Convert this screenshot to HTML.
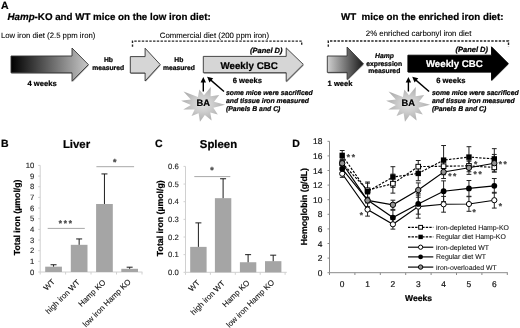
<!DOCTYPE html>
<html><head><meta charset="utf-8"><style>
html,body{margin:0;padding:0;background:#fff;}
svg{display:block;filter:grayscale(1) blur(0.3px);text-rendering:geometricPrecision;font-family:"Liberation Sans",sans-serif;}
</style></head><body>
<svg width="520" height="328" viewBox="0 0 520 328">
<defs>
<linearGradient id="g1" x1="0" x2="1" y1="0" y2="0"><stop offset="0" stop-color="#000"/><stop offset="1" stop-color="#c8c8c8"/></linearGradient>
<linearGradient id="g2" x1="0" x2="1" y1="0" y2="0"><stop offset="0" stop-color="#d0d0d0"/><stop offset="1" stop-color="#1a1a1a"/></linearGradient>
<filter id="blur" x="-20%" y="-20%" width="140%" height="140%"><feGaussianBlur stdDeviation="0.6"/></filter>
<filter id="sh" x="-10%" y="-10%" width="120%" height="130%"><feGaussianBlur stdDeviation="0.6"/></filter>
<radialGradient id="sg"><stop offset="0" stop-color="#e2e2e2"/><stop offset="0.45" stop-color="#cdcdcd"/><stop offset="1" stop-color="#adadad"/></radialGradient>
</defs>
<rect width="520" height="328" fill="#fff"/>
<text x="1" y="9" font-size="10.5" font-weight="bold" font-style="normal" text-anchor="start" fill="#000" stroke="#000" stroke-width="0.22" >A</text>
<text x="7.5" y="19.8" font-size="9.75" font-weight="bold" stroke="#000" stroke-width="0.22"><tspan font-style="italic">Hamp</tspan>-KO and WT mice on the low iron diet:</text>
<text x="341" y="20.2" font-size="9.75" font-weight="bold" stroke="#000" stroke-width="0.22" xml:space="preserve">WT  mice on the enriched iron diet:</text>
<text x="1" y="38" font-size="7.75" font-weight="normal" font-style="normal" text-anchor="start" fill="#000" stroke="#000" stroke-width="0.08" >Low iron diet (2.5 ppm iron)</text>
<text x="159.8" y="37.5" font-size="7.8" font-weight="normal" font-style="normal" text-anchor="start" fill="#000" stroke="#000" stroke-width="0.08" >Commercial diet (200 ppm iron)</text>
<text x="365.8" y="35.6" font-size="7.85" font-weight="normal" font-style="normal" text-anchor="start" fill="#000" stroke="#000" stroke-width="0.08" >2% enriched carbonyl iron diet</text>
<path d="M132.5,46.8 V41.1 H301.7 V45.8" fill="none" stroke="#262626" stroke-width="1.4" stroke-dasharray="2.4,1.35"/>
<path d="M328.3,46.8 V41.0 H508.5 V46.5" fill="none" stroke="#262626" stroke-width="1.4" stroke-dasharray="2.4,1.35"/>
<polygon points="11,56 72,56 72,48 88.4,64.6 72,81.2 72,72.8 11,72.8" fill="#000" opacity="0.35" transform="translate(0.5,1)" filter="url(#sh)"/>
<polygon points="11,56 72,56 72,48 88.4,64.6 72,81.2 72,72.8 11,72.8" fill="url(#g1)" stroke="#333" stroke-width="0.9" stroke-linejoin="miter"/>
<polygon points="130.3,56.6 145.1,56.6 145.1,48.2 160.2,64.5 145.1,81.0 145.1,73.0 130.3,73.0" fill="#000" opacity="0.35" transform="translate(0.5,1)" filter="url(#sh)"/>
<polygon points="130.3,56.6 145.1,56.6 145.1,48.2 160.2,64.5 145.1,81.0 145.1,73.0 130.3,73.0" fill="#d6d6d6" stroke="#333" stroke-width="0.9" stroke-linejoin="miter"/>
<polygon points="203.3,56.4 286.2,56.4 286.2,47.9 303.3,64.4 286.2,81.4 286.2,72.7 203.3,72.7" fill="#000" opacity="0.35" transform="translate(0.5,1)" filter="url(#sh)"/>
<polygon points="203.3,56.4 286.2,56.4 286.2,47.9 303.3,64.4 286.2,81.4 286.2,72.7 203.3,72.7" fill="#d6d6d6" stroke="#333" stroke-width="0.9" stroke-linejoin="miter"/>
<polygon points="327.3,56 347.1,56 347.1,47 363.4,63.8 347.1,79.5 347.1,72.4 327.3,72.4" fill="#000" opacity="0.35" transform="translate(0.5,1)" filter="url(#sh)"/>
<polygon points="327.3,56 347.1,56 347.1,47 363.4,63.8 347.1,79.5 347.1,72.4 327.3,72.4" fill="url(#g2)" stroke="#333" stroke-width="0.9" stroke-linejoin="miter"/>
<polygon points="407.9,55.2 491.5,55.2 491.5,46.8 508.3,63.6 491.5,80.3 491.5,72 407.9,72" fill="#000" opacity="0.35" transform="translate(0.5,1)" filter="url(#sh)"/>
<polygon points="407.9,55.2 491.5,55.2 491.5,46.8 508.3,63.6 491.5,80.3 491.5,72 407.9,72" fill="#000" stroke="#000" stroke-width="0.9" stroke-linejoin="miter"/>
<text x="27.4" y="86.2" font-size="7.65" font-weight="bold" font-style="normal" text-anchor="start" fill="#000" stroke="#000" stroke-width="0.22" >4 weeks</text>
<text x="108.4" y="62" font-size="6.75" font-weight="bold" font-style="normal" text-anchor="middle" fill="#000" stroke="#000" stroke-width="0.22" >Hb</text>
<text x="92.2" y="69.7" font-size="6.75" font-weight="bold" font-style="normal" text-anchor="start" fill="#000" stroke="#000" stroke-width="0.22" >measured</text>
<text x="178.8" y="61.7" font-size="6.75" font-weight="bold" font-style="normal" text-anchor="middle" fill="#000" stroke="#000" stroke-width="0.22" >Hb</text>
<text x="162.9" y="69.7" font-size="6.75" font-weight="bold" font-style="normal" text-anchor="start" fill="#000" stroke="#000" stroke-width="0.22" >measured</text>
<text x="220.5" y="68.6" font-size="9.75" font-weight="bold" font-style="normal" text-anchor="start" fill="#000" stroke="#000" stroke-width="0.22" >Weekly CBC</text>
<text x="250" y="52.5" font-size="7.5" font-weight="bold" font-style="italic" text-anchor="start" fill="#000" stroke="#000" stroke-width="0.22" >(Panel D)</text>
<text x="232.7" y="82.6" font-size="7.65" font-weight="bold" font-style="normal" text-anchor="start" fill="#000" stroke="#000" stroke-width="0.22" >6 weeks</text>
<text x="327.6" y="86" font-size="7.55" font-weight="bold" font-style="normal" text-anchor="start" fill="#000" stroke="#000" stroke-width="0.22" >1 week</text>
<text x="384.5" y="57.7" font-size="6.78" font-weight="bold" font-style="italic" text-anchor="middle" fill="#000" stroke="#000" stroke-width="0.22" >Hamp</text>
<text x="366.3" y="65.8" font-size="6.78" font-weight="bold" font-style="normal" text-anchor="start" fill="#000" stroke="#000" stroke-width="0.22" >expression</text>
<text x="368.3" y="73" font-size="6.78" font-weight="bold" font-style="normal" text-anchor="start" fill="#000" stroke="#000" stroke-width="0.22" >measured</text>
<text x="425.9" y="67.4" font-size="9.7" font-weight="bold" font-style="normal" text-anchor="start" fill="#fff" stroke="#fff" stroke-width="0.22" >Weekly CBC</text>
<text x="455.5" y="51.8" font-size="7.5" font-weight="bold" font-style="italic" text-anchor="start" fill="#000" stroke="#000" stroke-width="0.22" >(Panel D)</text>
<text x="436.2" y="82.6" font-size="7.65" font-weight="bold" font-style="normal" text-anchor="start" fill="#000" stroke="#000" stroke-width="0.22" >6 weeks</text>
<polygon points="183.54,91.39 197.90,97.04 199.35,89.62 203.97,95.33 210.79,87.02 210.61,96.20 219.21,95.03 214.05,101.67 225.04,104.81 213.35,107.79 217.76,114.58 210.29,112.49 211.62,120.41 204.82,114.92 199.97,121.66 198.62,113.26 191.55,116.04 194.70,109.39 183.23,109.59 190.90,105.02 181.15,100.65 190.78,99.56" fill="url(#sg)" filter="url(#blur)"/>
<text x="196.5" y="106" font-size="9.3" font-weight="bold" font-style="normal" text-anchor="start" fill="#000" stroke="#000" stroke-width="0.22" >BA</text>
<line x1="203.3" y1="91.5" x2="203.3" y2="80" stroke="#000" stroke-width="1.4"/>
<polygon points="200.60000000000002,82.6 203.3,76.9 206.0,82.6" fill="#000"/>
<line x1="224.0" y1="91.5" x2="209.10000000000002" y2="78.6" stroke="#000" stroke-width="1.4"/>
<polygon points="207.10000000000002,76.8 213.16,78.36 209.49,82.59" fill="#000"/>
<text x="226" y="95.2" font-size="6.85" font-weight="bold" font-style="italic" text-anchor="start" fill="#000" stroke="#000" stroke-width="0.22" >some mice were sacrificed</text>
<text x="226" y="102.9" font-size="6.85" font-weight="bold" font-style="italic" text-anchor="start" fill="#000" stroke="#000" stroke-width="0.22" >and tissue iron measured</text>
<text x="226" y="110.5" font-size="6.85" font-weight="bold" font-style="italic" text-anchor="start" fill="#000" stroke="#000" stroke-width="0.22" >(Panels B and C)</text>
<polygon points="388.54,91.39 402.90,97.04 404.35,89.62 408.97,95.33 415.79,87.02 415.61,96.20 424.21,95.03 419.05,101.67 430.04,104.81 418.35,107.79 422.76,114.58 415.29,112.49 416.62,120.41 409.82,114.92 404.97,121.66 403.62,113.26 396.55,116.04 399.70,109.39 388.23,109.59 395.90,105.02 386.15,100.65 395.78,99.56" fill="url(#sg)" filter="url(#blur)"/>
<text x="401.5" y="106" font-size="9.3" font-weight="bold" font-style="normal" text-anchor="start" fill="#000" stroke="#000" stroke-width="0.22" >BA</text>
<line x1="408.4" y1="91.5" x2="408.4" y2="80" stroke="#000" stroke-width="1.4"/>
<polygon points="405.7,82.6 408.4,76.9 411.09999999999997,82.6" fill="#000"/>
<line x1="429.09999999999997" y1="91.5" x2="414.2" y2="78.6" stroke="#000" stroke-width="1.4"/>
<polygon points="412.2,76.8 418.26,78.36 414.59,82.59" fill="#000"/>
<text x="431.9" y="95.2" font-size="6.85" font-weight="bold" font-style="italic" text-anchor="start" fill="#000" stroke="#000" stroke-width="0.22" >some mice were sacrificed</text>
<text x="431.9" y="102.9" font-size="6.85" font-weight="bold" font-style="italic" text-anchor="start" fill="#000" stroke="#000" stroke-width="0.22" >and tissue iron measured</text>
<text x="431.9" y="110.5" font-size="6.85" font-weight="bold" font-style="italic" text-anchor="start" fill="#000" stroke="#000" stroke-width="0.22" >(Panels B and C)</text>
<text x="1" y="146.9" font-size="10.5" font-weight="bold" font-style="normal" text-anchor="start" fill="#000" stroke="#000" stroke-width="0.22" >B</text>
<text x="62.9" y="148.4" font-size="11.4" font-weight="bold" font-style="normal" text-anchor="start" fill="#000" stroke="#000" stroke-width="0.22" >Liver</text>
<line x1="40.2" y1="165.4" x2="40.2" y2="272" stroke="#d0d0d0" stroke-width="1"/>
<line x1="38.2" y1="272.0" x2="40.2" y2="272.0" stroke="#d0d0d0" stroke-width="1"/>
<text x="34.3" y="274.75" font-size="7.7" font-weight="normal" font-style="normal" text-anchor="end" fill="#222" stroke="#222" stroke-width="0.12" >0</text>
<line x1="38.2" y1="261.34" x2="40.2" y2="261.34" stroke="#d0d0d0" stroke-width="1"/>
<text x="34.3" y="264.09" font-size="7.7" font-weight="normal" font-style="normal" text-anchor="end" fill="#222" stroke="#222" stroke-width="0.12" >1</text>
<line x1="38.2" y1="250.68" x2="40.2" y2="250.68" stroke="#d0d0d0" stroke-width="1"/>
<text x="34.3" y="253.43" font-size="7.7" font-weight="normal" font-style="normal" text-anchor="end" fill="#222" stroke="#222" stroke-width="0.12" >2</text>
<line x1="38.2" y1="240.02" x2="40.2" y2="240.02" stroke="#d0d0d0" stroke-width="1"/>
<text x="34.3" y="242.77" font-size="7.7" font-weight="normal" font-style="normal" text-anchor="end" fill="#222" stroke="#222" stroke-width="0.12" >3</text>
<line x1="38.2" y1="229.36" x2="40.2" y2="229.36" stroke="#d0d0d0" stroke-width="1"/>
<text x="34.3" y="232.11" font-size="7.7" font-weight="normal" font-style="normal" text-anchor="end" fill="#222" stroke="#222" stroke-width="0.12" >4</text>
<line x1="38.2" y1="218.7" x2="40.2" y2="218.7" stroke="#d0d0d0" stroke-width="1"/>
<text x="34.3" y="221.45" font-size="7.7" font-weight="normal" font-style="normal" text-anchor="end" fill="#222" stroke="#222" stroke-width="0.12" >5</text>
<line x1="38.2" y1="208.04" x2="40.2" y2="208.04" stroke="#d0d0d0" stroke-width="1"/>
<text x="34.3" y="210.79" font-size="7.7" font-weight="normal" font-style="normal" text-anchor="end" fill="#222" stroke="#222" stroke-width="0.12" >6</text>
<line x1="38.2" y1="197.38" x2="40.2" y2="197.38" stroke="#d0d0d0" stroke-width="1"/>
<text x="34.3" y="200.13" font-size="7.7" font-weight="normal" font-style="normal" text-anchor="end" fill="#222" stroke="#222" stroke-width="0.12" >7</text>
<line x1="38.2" y1="186.72" x2="40.2" y2="186.72" stroke="#d0d0d0" stroke-width="1"/>
<text x="34.3" y="189.47" font-size="7.7" font-weight="normal" font-style="normal" text-anchor="end" fill="#222" stroke="#222" stroke-width="0.12" >8</text>
<line x1="38.2" y1="176.06" x2="40.2" y2="176.06" stroke="#d0d0d0" stroke-width="1"/>
<text x="34.3" y="178.81" font-size="7.7" font-weight="normal" font-style="normal" text-anchor="end" fill="#222" stroke="#222" stroke-width="0.12" >9</text>
<line x1="38.2" y1="165.4" x2="40.2" y2="165.4" stroke="#d0d0d0" stroke-width="1"/>
<text x="34.3" y="168.15" font-size="7.7" font-weight="normal" font-style="normal" text-anchor="end" fill="#222" stroke="#222" stroke-width="0.12" >10</text>
<line x1="40.2" y1="272" x2="142.4" y2="272" stroke="#d0d0d0" stroke-width="1"/>
<line x1="40.2" y1="272" x2="40.2" y2="274.5" stroke="#d0d0d0" stroke-width="1"/>
<line x1="65.6" y1="272" x2="65.6" y2="274.5" stroke="#d0d0d0" stroke-width="1"/>
<line x1="91" y1="272" x2="91" y2="274.5" stroke="#d0d0d0" stroke-width="1"/>
<line x1="116.5" y1="272" x2="116.5" y2="274.5" stroke="#d0d0d0" stroke-width="1"/>
<line x1="142" y1="272" x2="142" y2="274.5" stroke="#d0d0d0" stroke-width="1"/>
<rect x="45.2" y="266.67" width="16.7" height="5.33" fill="#a5a5a5"/>
<line x1="53.550000000000004" y1="266.67" x2="53.550000000000004" y2="264.75" stroke="#1e1e1e" stroke-width="1"/>
<line x1="50.550000000000004" y1="264.75" x2="56.550000000000004" y2="264.75" stroke="#1e1e1e" stroke-width="1"/>
<rect x="70.8" y="244.82" width="16.7" height="27.18" fill="#a5a5a5"/>
<line x1="79.14999999999999" y1="244.82" x2="79.14999999999999" y2="238.95" stroke="#1e1e1e" stroke-width="1"/>
<line x1="76.14999999999999" y1="238.95" x2="82.14999999999999" y2="238.95" stroke="#1e1e1e" stroke-width="1"/>
<rect x="96.1" y="203.99" width="16.7" height="68.01" fill="#a5a5a5"/>
<line x1="104.44999999999999" y1="203.99" x2="104.44999999999999" y2="173.93" stroke="#1e1e1e" stroke-width="1"/>
<line x1="101.44999999999999" y1="173.93" x2="107.44999999999999" y2="173.93" stroke="#1e1e1e" stroke-width="1"/>
<rect x="121.3" y="268.80" width="16.7" height="3.20" fill="#a5a5a5"/>
<line x1="129.65" y1="268.80" x2="129.65" y2="267.20" stroke="#1e1e1e" stroke-width="1"/>
<line x1="126.65" y1="267.20" x2="132.65" y2="267.20" stroke="#1e1e1e" stroke-width="1"/>
<text x="55.5" y="282.3" font-size="7.9" text-anchor="end" fill="#111" stroke="#111" stroke-width="0.1" transform="rotate(-45 55.5 282.3)">WT</text>
<text x="80.5" y="282.8" font-size="7.9" text-anchor="end" fill="#111" stroke="#111" stroke-width="0.1" transform="rotate(-45 80.5 282.8)">high iron WT</text>
<text x="106" y="282.8" font-size="7.9" text-anchor="end" fill="#111" stroke="#111" stroke-width="0.1" transform="rotate(-45 106 282.8)">Hamp KO</text>
<text x="131.3" y="282.3" font-size="7.9" text-anchor="end" fill="#111" stroke="#111" stroke-width="0.1" transform="rotate(-45 131.3 282.3)">low iron Hamp KO</text>
<text x="20.2" y="217.4" font-size="8.75" font-weight="bold" text-anchor="middle" stroke="#000" stroke-width="0.22" transform="rotate(-90 20.2 217.4)">Total iron (µmol/g)</text>
<line x1="47.7" y1="228.4" x2="84.8" y2="228.4" stroke="#a8a8a8" stroke-width="1"/>
<text x="60.41" y="225.50" font-size="8.2" font-weight="bold" text-anchor="middle" fill="#484848" stroke="#484848" stroke-width="0.3">*</text>
<text x="65.40" y="225.50" font-size="8.2" font-weight="bold" text-anchor="middle" fill="#484848" stroke="#484848" stroke-width="0.3">*</text>
<text x="70.39" y="225.50" font-size="8.2" font-weight="bold" text-anchor="middle" fill="#484848" stroke="#484848" stroke-width="0.3">*</text>
<line x1="96.4" y1="166.7" x2="134.1" y2="166.7" stroke="#a8a8a8" stroke-width="1"/>
<text x="114.60" y="164.60" font-size="8.8" font-weight="bold" text-anchor="middle" fill="#484848" stroke="#484848" stroke-width="0.3">*</text>
<text x="155.1" y="146.9" font-size="10.5" font-weight="bold" font-style="normal" text-anchor="start" fill="#000" stroke="#000" stroke-width="0.22" >C</text>
<text x="199.8" y="148.4" font-size="11.4" font-weight="bold" font-style="normal" text-anchor="start" fill="#000" stroke="#000" stroke-width="0.22" >Spleen</text>
<line x1="185.5" y1="166.40000000000003" x2="185.5" y2="272.3" stroke="#d0d0d0" stroke-width="1"/>
<line x1="183.5" y1="272.3" x2="185.5" y2="272.3" stroke="#d0d0d0" stroke-width="1"/>
<text x="178.8" y="275.05" font-size="7.7" font-weight="normal" font-style="normal" text-anchor="end" fill="#222" stroke="#222" stroke-width="0.12" >0.0</text>
<line x1="183.5" y1="254.65" x2="185.5" y2="254.65" stroke="#d0d0d0" stroke-width="1"/>
<text x="178.8" y="257.4" font-size="7.7" font-weight="normal" font-style="normal" text-anchor="end" fill="#222" stroke="#222" stroke-width="0.12" >0.1</text>
<line x1="183.5" y1="237.0" x2="185.5" y2="237.0" stroke="#d0d0d0" stroke-width="1"/>
<text x="178.8" y="239.75" font-size="7.7" font-weight="normal" font-style="normal" text-anchor="end" fill="#222" stroke="#222" stroke-width="0.12" >0.2</text>
<line x1="183.5" y1="219.35" x2="185.5" y2="219.35" stroke="#d0d0d0" stroke-width="1"/>
<text x="178.8" y="222.1" font-size="7.7" font-weight="normal" font-style="normal" text-anchor="end" fill="#222" stroke="#222" stroke-width="0.12" >0.3</text>
<line x1="183.5" y1="201.7" x2="185.5" y2="201.7" stroke="#d0d0d0" stroke-width="1"/>
<text x="178.8" y="204.45" font-size="7.7" font-weight="normal" font-style="normal" text-anchor="end" fill="#222" stroke="#222" stroke-width="0.12" >0.4</text>
<line x1="183.5" y1="184.05" x2="185.5" y2="184.05" stroke="#d0d0d0" stroke-width="1"/>
<text x="178.8" y="186.8" font-size="7.7" font-weight="normal" font-style="normal" text-anchor="end" fill="#222" stroke="#222" stroke-width="0.12" >0.5</text>
<line x1="183.5" y1="166.39999999999998" x2="185.5" y2="166.39999999999998" stroke="#d0d0d0" stroke-width="1"/>
<text x="178.8" y="169.14999999999998" font-size="7.7" font-weight="normal" font-style="normal" text-anchor="end" fill="#222" stroke="#222" stroke-width="0.12" >0.6</text>
<line x1="185.5" y1="272.3" x2="286.8" y2="272.3" stroke="#d0d0d0" stroke-width="1"/>
<line x1="185.5" y1="272.3" x2="185.5" y2="274.8" stroke="#d0d0d0" stroke-width="1"/>
<line x1="210.4" y1="272.3" x2="210.4" y2="274.8" stroke="#d0d0d0" stroke-width="1"/>
<line x1="235.3" y1="272.3" x2="235.3" y2="274.8" stroke="#d0d0d0" stroke-width="1"/>
<line x1="260.2" y1="272.3" x2="260.2" y2="274.8" stroke="#d0d0d0" stroke-width="1"/>
<line x1="285.1" y1="272.3" x2="285.1" y2="274.8" stroke="#d0d0d0" stroke-width="1"/>
<rect x="190.2" y="246.88" width="16.4" height="25.42" fill="#a5a5a5"/>
<line x1="198.39999999999998" y1="246.88" x2="198.39999999999998" y2="222.88" stroke="#1e1e1e" stroke-width="1"/>
<line x1="195.39999999999998" y1="222.88" x2="201.39999999999998" y2="222.88" stroke="#1e1e1e" stroke-width="1"/>
<rect x="214.9" y="198.17" width="16.4" height="74.13" fill="#a5a5a5"/>
<line x1="223.1" y1="198.17" x2="223.1" y2="178.75" stroke="#1e1e1e" stroke-width="1"/>
<line x1="220.1" y1="178.75" x2="226.1" y2="178.75" stroke="#1e1e1e" stroke-width="1"/>
<rect x="239.9" y="262.24" width="16.4" height="10.06" fill="#a5a5a5"/>
<line x1="248.1" y1="262.24" x2="248.1" y2="254.65" stroke="#1e1e1e" stroke-width="1"/>
<line x1="245.1" y1="254.65" x2="251.1" y2="254.65" stroke="#1e1e1e" stroke-width="1"/>
<rect x="265" y="261.18" width="16.4" height="11.12" fill="#a5a5a5"/>
<line x1="273.2" y1="261.18" x2="273.2" y2="255.18" stroke="#1e1e1e" stroke-width="1"/>
<line x1="270.2" y1="255.18" x2="276.2" y2="255.18" stroke="#1e1e1e" stroke-width="1"/>
<text x="200.5" y="283.3" font-size="7.9" text-anchor="end" fill="#111" stroke="#111" stroke-width="0.1" transform="rotate(-45 200.5 283.3)">WT</text>
<text x="225.5" y="283.8" font-size="7.9" text-anchor="end" fill="#111" stroke="#111" stroke-width="0.1" transform="rotate(-45 225.5 283.8)">high iron WT</text>
<text x="250" y="283.3" font-size="7.9" text-anchor="end" fill="#111" stroke="#111" stroke-width="0.1" transform="rotate(-45 250 283.3)">Hamp KO</text>
<text x="274.8" y="282.8" font-size="7.9" text-anchor="end" fill="#111" stroke="#111" stroke-width="0.1" transform="rotate(-45 274.8 282.8)">low iron Hamp KO</text>
<text x="163.2" y="218.2" font-size="8.75" font-weight="bold" text-anchor="middle" stroke="#000" stroke-width="0.22" transform="rotate(-90 163.2 218.2)">Total iron (µmol/g)</text>
<line x1="194.3" y1="176.6" x2="230.3" y2="176.6" stroke="#a8a8a8" stroke-width="1"/>
<text x="212.00" y="173.10" font-size="8.8" font-weight="bold" text-anchor="middle" fill="#484848" stroke="#484848" stroke-width="0.3">*</text>
<text x="292.3" y="146.6" font-size="10.5" font-weight="bold" font-style="normal" text-anchor="start" fill="#000" stroke="#000" stroke-width="0.22" >D</text>
<line x1="329.5" y1="141.30" x2="329.5" y2="272.7" stroke="#8a8a8a" stroke-width="1"/>
<line x1="327.5" y1="272.70" x2="329.5" y2="272.70" stroke="#8a8a8a" stroke-width="1"/>
<text x="322.3" y="275.70" font-size="8.4" font-weight="normal" font-style="normal" text-anchor="end" fill="#111" stroke="#111" stroke-width="0.2" >0</text>
<line x1="327.5" y1="258.10" x2="329.5" y2="258.10" stroke="#8a8a8a" stroke-width="1"/>
<text x="322.3" y="261.10" font-size="8.4" font-weight="normal" font-style="normal" text-anchor="end" fill="#111" stroke="#111" stroke-width="0.2" >2</text>
<line x1="327.5" y1="243.50" x2="329.5" y2="243.50" stroke="#8a8a8a" stroke-width="1"/>
<text x="322.3" y="246.50" font-size="8.4" font-weight="normal" font-style="normal" text-anchor="end" fill="#111" stroke="#111" stroke-width="0.2" >4</text>
<line x1="327.5" y1="228.90" x2="329.5" y2="228.90" stroke="#8a8a8a" stroke-width="1"/>
<text x="322.3" y="231.90" font-size="8.4" font-weight="normal" font-style="normal" text-anchor="end" fill="#111" stroke="#111" stroke-width="0.2" >6</text>
<line x1="327.5" y1="214.30" x2="329.5" y2="214.30" stroke="#8a8a8a" stroke-width="1"/>
<text x="322.3" y="217.30" font-size="8.4" font-weight="normal" font-style="normal" text-anchor="end" fill="#111" stroke="#111" stroke-width="0.2" >8</text>
<line x1="327.5" y1="199.70" x2="329.5" y2="199.70" stroke="#8a8a8a" stroke-width="1"/>
<text x="322.3" y="202.70" font-size="8.4" font-weight="normal" font-style="normal" text-anchor="end" fill="#111" stroke="#111" stroke-width="0.2" >10</text>
<line x1="327.5" y1="185.10" x2="329.5" y2="185.10" stroke="#8a8a8a" stroke-width="1"/>
<text x="322.3" y="188.10" font-size="8.4" font-weight="normal" font-style="normal" text-anchor="end" fill="#111" stroke="#111" stroke-width="0.2" >12</text>
<line x1="327.5" y1="170.50" x2="329.5" y2="170.50" stroke="#8a8a8a" stroke-width="1"/>
<text x="322.3" y="173.50" font-size="8.4" font-weight="normal" font-style="normal" text-anchor="end" fill="#111" stroke="#111" stroke-width="0.2" >14</text>
<line x1="327.5" y1="155.90" x2="329.5" y2="155.90" stroke="#8a8a8a" stroke-width="1"/>
<text x="322.3" y="158.90" font-size="8.4" font-weight="normal" font-style="normal" text-anchor="end" fill="#111" stroke="#111" stroke-width="0.2" >16</text>
<line x1="327.5" y1="141.30" x2="329.5" y2="141.30" stroke="#8a8a8a" stroke-width="1"/>
<text x="322.3" y="144.30" font-size="8.4" font-weight="normal" font-style="normal" text-anchor="end" fill="#111" stroke="#111" stroke-width="0.2" >18</text>
<line x1="329.5" y1="272.7" x2="507.8" y2="272.7" stroke="#8a8a8a" stroke-width="1"/>
<line x1="329.50" y1="272.7" x2="329.50" y2="275.0" stroke="#8a8a8a" stroke-width="1"/>
<line x1="354.90" y1="272.7" x2="354.90" y2="275.0" stroke="#8a8a8a" stroke-width="1"/>
<line x1="380.30" y1="272.7" x2="380.30" y2="275.0" stroke="#8a8a8a" stroke-width="1"/>
<line x1="405.70" y1="272.7" x2="405.70" y2="275.0" stroke="#8a8a8a" stroke-width="1"/>
<line x1="431.10" y1="272.7" x2="431.10" y2="275.0" stroke="#8a8a8a" stroke-width="1"/>
<line x1="456.50" y1="272.7" x2="456.50" y2="275.0" stroke="#8a8a8a" stroke-width="1"/>
<line x1="481.90" y1="272.7" x2="481.90" y2="275.0" stroke="#8a8a8a" stroke-width="1"/>
<line x1="507.30" y1="272.7" x2="507.30" y2="275.0" stroke="#8a8a8a" stroke-width="1"/>
<text x="342.20" y="286.9" font-size="8.4" font-weight="normal" font-style="normal" text-anchor="middle" fill="#111" stroke="#111" stroke-width="0.2" >0</text>
<text x="367.55" y="286.9" font-size="8.4" font-weight="normal" font-style="normal" text-anchor="middle" fill="#111" stroke="#111" stroke-width="0.2" >1</text>
<text x="392.90" y="286.9" font-size="8.4" font-weight="normal" font-style="normal" text-anchor="middle" fill="#111" stroke="#111" stroke-width="0.2" >2</text>
<text x="418.25" y="286.9" font-size="8.4" font-weight="normal" font-style="normal" text-anchor="middle" fill="#111" stroke="#111" stroke-width="0.2" >3</text>
<text x="443.60" y="286.9" font-size="8.4" font-weight="normal" font-style="normal" text-anchor="middle" fill="#111" stroke="#111" stroke-width="0.2" >4</text>
<text x="468.95" y="286.9" font-size="8.4" font-weight="normal" font-style="normal" text-anchor="middle" fill="#111" stroke="#111" stroke-width="0.2" >5</text>
<text x="494.30" y="286.9" font-size="8.4" font-weight="normal" font-style="normal" text-anchor="middle" fill="#111" stroke="#111" stroke-width="0.2" >6</text>
<text x="405.1" y="300.6" font-size="8.55" font-weight="bold" font-style="normal" text-anchor="start" fill="#000" stroke="#000" stroke-width="0.22" >Weeks</text>
<text x="307.2" y="206.6" font-size="8.75" font-weight="bold" text-anchor="middle" stroke="#000" stroke-width="0.22" transform="rotate(-90 307.2 206.6)">Hemoglobin (g/dL)</text>
<path d="M342.20,167.58 V158.82 M339.80,158.82 h4.8 M339.80,167.58 h4.8" stroke="#222" stroke-width="1" fill="none"/>
<path d="M367.55,197.22 V183.20 M365.15,183.20 h4.8 M365.15,197.22 h4.8" stroke="#222" stroke-width="1" fill="none"/>
<path d="M392.90,193.13 V174.15 M390.50,174.15 h4.8 M390.50,193.13 h4.8" stroke="#222" stroke-width="1" fill="none"/>
<path d="M418.25,172.76 V160.50 M415.85,160.50 h4.8 M415.85,172.76 h4.8" stroke="#222" stroke-width="1" fill="none"/>
<path d="M443.60,172.76 V159.62 M441.20,159.62 h4.8 M441.20,172.76 h4.8" stroke="#222" stroke-width="1" fill="none"/>
<path d="M468.95,171.74 V160.06 M466.55,160.06 h4.8 M466.55,171.74 h4.8" stroke="#222" stroke-width="1" fill="none"/>
<path d="M494.30,171.96 V162.91 M491.90,162.91 h4.8 M491.90,171.96 h4.8" stroke="#222" stroke-width="1" fill="none"/>
<path d="M342.20,160.28 V150.50 M339.80,150.50 h4.8 M339.80,160.28 h4.8" stroke="#222" stroke-width="1" fill="none"/>
<path d="M367.55,201.01 V182.03 M365.15,182.03 h4.8 M365.15,201.01 h4.8" stroke="#222" stroke-width="1" fill="none"/>
<path d="M392.90,187.44 V166.70 M390.50,166.70 h4.8 M390.50,187.44 h4.8" stroke="#222" stroke-width="1" fill="none"/>
<path d="M418.25,180.72 V166.12 M415.85,166.12 h4.8 M415.85,180.72 h4.8" stroke="#222" stroke-width="1" fill="none"/>
<path d="M443.60,174.73 V145.53 M441.20,145.53 h4.8 M441.20,174.73 h4.8" stroke="#222" stroke-width="1" fill="none"/>
<path d="M468.95,167.43 V146.70 M466.55,146.70 h4.8 M466.55,167.43 h4.8" stroke="#222" stroke-width="1" fill="none"/>
<path d="M494.30,169.11 V148.67 M491.90,148.67 h4.8 M491.90,169.11 h4.8" stroke="#222" stroke-width="1" fill="none"/>
<path d="M342.20,177.36 V170.06 M339.80,170.06 h4.8 M339.80,177.36 h4.8" stroke="#222" stroke-width="1" fill="none"/>
<path d="M367.55,216.12 V202.98 M365.15,202.98 h4.8 M365.15,216.12 h4.8" stroke="#222" stroke-width="1" fill="none"/>
<path d="M392.90,229.12 V219.48 M390.50,219.48 h4.8 M390.50,229.12 h4.8" stroke="#222" stroke-width="1" fill="none"/>
<path d="M418.25,218.17 V195.10 M415.85,195.10 h4.8 M415.85,218.17 h4.8" stroke="#222" stroke-width="1" fill="none"/>
<path d="M443.60,212.18 V196.41 M441.20,196.41 h4.8 M441.20,212.18 h4.8" stroke="#222" stroke-width="1" fill="none"/>
<path d="M468.95,211.31 V196.71 M466.55,196.71 h4.8 M466.55,211.31 h4.8" stroke="#222" stroke-width="1" fill="none"/>
<path d="M494.30,208.09 V192.33 M491.90,192.33 h4.8 M491.90,208.09 h4.8" stroke="#222" stroke-width="1" fill="none"/>
<path d="M342.20,172.47 V165.17 M339.80,165.17 h4.8 M339.80,172.47 h4.8" stroke="#222" stroke-width="1" fill="none"/>
<path d="M367.55,206.63 V193.50 M365.15,193.50 h4.8 M365.15,206.63 h4.8" stroke="#222" stroke-width="1" fill="none"/>
<path d="M392.90,224.88 V210.28 M390.50,210.28 h4.8 M390.50,224.88 h4.8" stroke="#222" stroke-width="1" fill="none"/>
<path d="M418.25,214.15 V193.71 M415.85,193.71 h4.8 M415.85,214.15 h4.8" stroke="#222" stroke-width="1" fill="none"/>
<path d="M443.60,201.60 V180.87 M441.20,180.87 h4.8 M441.20,201.60 h4.8" stroke="#222" stroke-width="1" fill="none"/>
<path d="M468.95,196.27 V180.50 M466.55,180.50 h4.8 M466.55,196.27 h4.8" stroke="#222" stroke-width="1" fill="none"/>
<path d="M494.30,193.13 V178.53 M491.90,178.53 h4.8 M491.90,193.13 h4.8" stroke="#222" stroke-width="1" fill="none"/>
<path d="M342.20,166.92 V159.62 M339.80,159.62 h4.8 M339.80,166.92 h4.8" stroke="#222" stroke-width="1" fill="none"/>
<path d="M367.55,207.00 V193.86 M365.15,193.86 h4.8 M365.15,207.00 h4.8" stroke="#222" stroke-width="1" fill="none"/>
<path d="M392.90,209.41 V200.21 M390.50,200.21 h4.8 M390.50,209.41 h4.8" stroke="#222" stroke-width="1" fill="none"/>
<path d="M418.25,197.22 V182.91 M415.85,182.91 h4.8 M415.85,197.22 h4.8" stroke="#222" stroke-width="1" fill="none"/>
<path d="M443.60,178.53 V165.39 M441.20,165.39 h4.8 M441.20,178.53 h4.8" stroke="#222" stroke-width="1" fill="none"/>
<path d="M468.95,174.37 V161.23 M466.55,161.23 h4.8 M466.55,174.37 h4.8" stroke="#222" stroke-width="1" fill="none"/>
<path d="M494.30,171.96 V154.44 M491.90,154.44 h4.8 M491.90,171.96 h4.8" stroke="#222" stroke-width="1" fill="none"/>
<path d="M342.20,163.20 L367.55,190.21 L392.90,183.64 L418.25,166.63 L443.60,166.19 L468.95,165.90 L494.30,167.43" fill="none" stroke="#000" stroke-width="1.15" stroke-dasharray="2.4,1.4"/>
<path d="M342.20,155.39 L367.55,191.52 L392.90,177.07 L418.25,173.42 L443.60,160.13 L468.95,157.07 L494.30,158.89" fill="none" stroke="#000" stroke-width="1.15" stroke-dasharray="2.4,1.4"/>
<path d="M342.20,173.71 L367.55,209.55 L392.90,224.30 L418.25,206.63 L443.60,204.30 L468.95,204.01 L494.30,200.21" fill="none" stroke="#000" stroke-width="1.15"/>
<path d="M342.20,168.82 L367.55,200.06 L392.90,217.58 L418.25,203.93 L443.60,191.23 L468.95,188.38 L494.30,185.83" fill="none" stroke="#000" stroke-width="1.15"/>
<path d="M342.20,163.27 L367.55,200.43 L392.90,204.81 L418.25,190.06 L443.60,171.96 L468.95,167.80 L494.30,163.20" fill="none" stroke="#000" stroke-width="1.15"/>
<rect x="339.90" y="160.90" width="4.60" height="4.60" fill="#fff" stroke="#000" stroke-width="1"/>
<rect x="365.25" y="187.91" width="4.60" height="4.60" fill="#fff" stroke="#000" stroke-width="1"/>
<rect x="390.60" y="181.34" width="4.60" height="4.60" fill="#fff" stroke="#000" stroke-width="1"/>
<rect x="415.95" y="164.33" width="4.60" height="4.60" fill="#fff" stroke="#000" stroke-width="1"/>
<rect x="441.30" y="163.89" width="4.60" height="4.60" fill="#fff" stroke="#000" stroke-width="1"/>
<rect x="466.65" y="163.60" width="4.60" height="4.60" fill="#fff" stroke="#000" stroke-width="1"/>
<rect x="492.00" y="165.13" width="4.60" height="4.60" fill="#fff" stroke="#000" stroke-width="1"/>
<rect x="339.50" y="152.69" width="5.40" height="5.40" fill="#000"/>
<rect x="364.85" y="188.82" width="5.40" height="5.40" fill="#000"/>
<rect x="390.20" y="174.37" width="5.40" height="5.40" fill="#000"/>
<rect x="415.55" y="170.72" width="5.40" height="5.40" fill="#000"/>
<rect x="440.90" y="157.43" width="5.40" height="5.40" fill="#000"/>
<rect x="466.25" y="154.37" width="5.40" height="5.40" fill="#000"/>
<rect x="491.60" y="156.19" width="5.40" height="5.40" fill="#000"/>
<circle cx="342.20" cy="173.71" r="2.60" fill="#fff" stroke="#000" stroke-width="1"/>
<circle cx="367.55" cy="209.55" r="2.60" fill="#fff" stroke="#000" stroke-width="1"/>
<circle cx="392.90" cy="224.30" r="2.60" fill="#fff" stroke="#000" stroke-width="1"/>
<circle cx="418.25" cy="206.63" r="2.60" fill="#fff" stroke="#000" stroke-width="1"/>
<circle cx="443.60" cy="204.30" r="2.60" fill="#fff" stroke="#000" stroke-width="1"/>
<circle cx="468.95" cy="204.01" r="2.60" fill="#fff" stroke="#000" stroke-width="1"/>
<circle cx="494.30" cy="200.21" r="2.60" fill="#fff" stroke="#000" stroke-width="1"/>
<circle cx="342.20" cy="168.82" r="2.90" fill="#000"/>
<circle cx="367.55" cy="200.06" r="2.90" fill="#000"/>
<circle cx="392.90" cy="217.58" r="2.90" fill="#000"/>
<circle cx="418.25" cy="203.93" r="2.90" fill="#000"/>
<circle cx="443.60" cy="191.23" r="2.90" fill="#000"/>
<circle cx="468.95" cy="188.38" r="2.90" fill="#000"/>
<circle cx="494.30" cy="185.83" r="2.90" fill="#000"/>
<circle cx="342.20" cy="163.27" r="2.70" fill="#939393" stroke="#000" stroke-width="1"/>
<circle cx="367.55" cy="200.43" r="2.70" fill="#939393" stroke="#000" stroke-width="1"/>
<circle cx="392.90" cy="204.81" r="2.70" fill="#939393" stroke="#000" stroke-width="1"/>
<circle cx="418.25" cy="190.06" r="2.70" fill="#939393" stroke="#000" stroke-width="1"/>
<circle cx="443.60" cy="171.96" r="2.70" fill="#939393" stroke="#000" stroke-width="1"/>
<circle cx="468.95" cy="167.80" r="2.70" fill="#939393" stroke="#000" stroke-width="1"/>
<circle cx="494.30" cy="163.20" r="2.70" fill="#939393" stroke="#000" stroke-width="1"/>
<text x="348.47" y="160.20" font-size="8.4" font-weight="bold" text-anchor="middle" fill="#484848" stroke="#484848" stroke-width="0.3">*</text>
<text x="353.33" y="160.20" font-size="8.4" font-weight="bold" text-anchor="middle" fill="#484848" stroke="#484848" stroke-width="0.3">*</text>
<text x="361.50" y="217.60" font-size="8.4" font-weight="bold" text-anchor="middle" fill="#484848" stroke="#484848" stroke-width="0.3">*</text>
<text x="449.77" y="178.60" font-size="8.4" font-weight="bold" text-anchor="middle" fill="#484848" stroke="#484848" stroke-width="0.3">*</text>
<text x="454.63" y="178.60" font-size="8.4" font-weight="bold" text-anchor="middle" fill="#484848" stroke="#484848" stroke-width="0.3">*</text>
<text x="475.70" y="166.50" font-size="8.4" font-weight="bold" text-anchor="middle" fill="#484848" stroke="#484848" stroke-width="0.3">*</text>
<text x="475.17" y="176.50" font-size="8.4" font-weight="bold" text-anchor="middle" fill="#484848" stroke="#484848" stroke-width="0.3">*</text>
<text x="480.03" y="176.50" font-size="8.4" font-weight="bold" text-anchor="middle" fill="#484848" stroke="#484848" stroke-width="0.3">*</text>
<text x="474.10" y="214.60" font-size="8.4" font-weight="bold" text-anchor="middle" fill="#484848" stroke="#484848" stroke-width="0.3">*</text>
<text x="500.37" y="167.10" font-size="8.4" font-weight="bold" text-anchor="middle" fill="#484848" stroke="#484848" stroke-width="0.3">*</text>
<text x="505.23" y="167.10" font-size="8.4" font-weight="bold" text-anchor="middle" fill="#484848" stroke="#484848" stroke-width="0.3">*</text>
<text x="500.30" y="208.80" font-size="8.4" font-weight="bold" text-anchor="middle" fill="#484848" stroke="#484848" stroke-width="0.3">*</text>
<line x1="408" y1="227.3" x2="433.3" y2="227.3" stroke="#000" stroke-width="1.15" stroke-dasharray="2.4,1.15"/>
<rect x="418.71" y="225.41" width="3.77" height="3.77" fill="#fff" stroke="#000" stroke-width="1"/>
<text x="436.1" y="229.8" font-size="6.9" font-weight="normal" font-style="normal" text-anchor="start" fill="#111" stroke="#111" stroke-width="0.08" >iron-depleted Hamp-KO</text>
<line x1="408" y1="236.9" x2="433.3" y2="236.9" stroke="#000" stroke-width="1.15" stroke-dasharray="2.4,1.15"/>
<rect x="418.39" y="234.69" width="4.43" height="4.43" fill="#000"/>
<text x="436.1" y="239.4" font-size="6.9" font-weight="normal" font-style="normal" text-anchor="start" fill="#111" stroke="#111" stroke-width="0.08" >Regular diet Hamp-KO</text>
<line x1="408" y1="247.2" x2="433.3" y2="247.2" stroke="#000" stroke-width="1.15"/>
<circle cx="420.60" cy="247.20" r="2.13" fill="#fff" stroke="#000" stroke-width="1"/>
<text x="436.1" y="249.7" font-size="6.9" font-weight="normal" font-style="normal" text-anchor="start" fill="#111" stroke="#111" stroke-width="0.08" >iron-depleted WT</text>
<line x1="408" y1="256.9" x2="433.3" y2="256.9" stroke="#000" stroke-width="1.15"/>
<circle cx="420.60" cy="256.90" r="2.38" fill="#000"/>
<text x="436.1" y="259.4" font-size="6.9" font-weight="normal" font-style="normal" text-anchor="start" fill="#111" stroke="#111" stroke-width="0.08" >Regular diet WT</text>
<line x1="408" y1="267.1" x2="433.3" y2="267.1" stroke="#000" stroke-width="1.15"/>
<circle cx="420.60" cy="267.10" r="2.21" fill="#939393" stroke="#000" stroke-width="1"/>
<text x="436.1" y="269.6" font-size="6.9" font-weight="normal" font-style="normal" text-anchor="start" fill="#111" stroke="#111" stroke-width="0.08" >iron-overloaded WT</text>
</svg>
</body></html>
